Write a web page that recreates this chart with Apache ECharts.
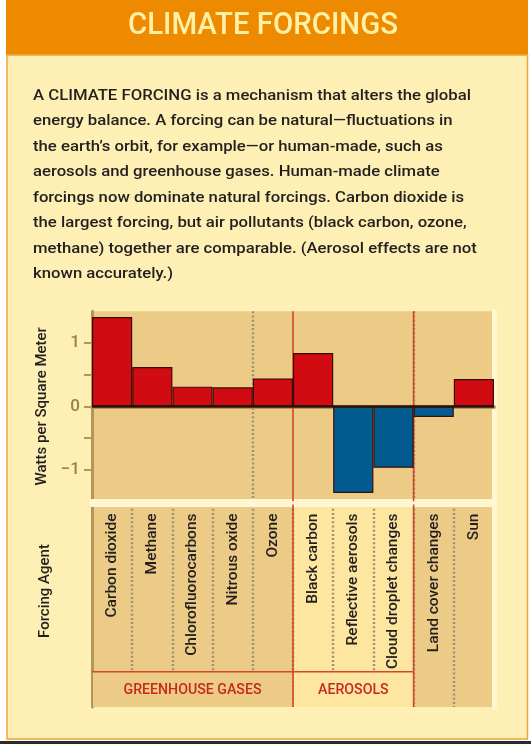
<!DOCTYPE html>
<html><head><meta charset="utf-8">
<script src="https://cdn.jsdelivr.net/npm/echarts@6/dist/echarts.min.js"></script>
<style>html,body{margin:0;padding:0;background:#fff;}#c{width:531px;height:744px;}</style>
</head><body><div id="c"></div>
<script>
// ---- data ----
const titleText = 'CLIMATE FORCINGS';
const paragraphLines = [
  'A CLIMATE FORCING is a mechanism that alters the global',
  'energy balance. A forcing can be natural\u2014fluctuations in',
  'the earth\u2019s orbit, for example\u2014or human-made, such as',
  'aerosols and greenhouse gases. Human-made climate',
  'forcings now dominate natural forcings. Carbon dioxide is',
  'the largest forcing, but air pollutants (black carbon, ozone,',
  'methane) together are comparable. (Aerosol effects are not',
  'known accurately.)'
];
const categories = ['Carbon dioxide','Methane','Chlorofluorocarbons','Nitrous oxide','Ozone',
  'Black carbon','Reflective aerosols','Cloud droplet changes','Land cover changes','Sun'];
const forcingValues = [1.41, 0.62, 0.31, 0.30, 0.44, 0.84, -1.37, -0.97, -0.17, 0.43];
const yTickValues = [-1, -0.5, 0, 0.5, 1];
const yTickLabels = {'1':'1', '0':'0', '-1':'\u22121'};
const groupNames = ['GREENHOUSE GASES', 'AEROSOLS'];
const groupStart = [0, 5];
const groupEnd = [4, 7];
const yAxisTitle = 'Watts per Square Meter';
const xAxisTitle = 'Forcing Agent';

// ---- styles ----
const FONT = 'Roboto';
const TAN = '#ECCB86', LIGHT = '#FDE6A0', CREAM = '#FEF0B4', HI = '#FFF7D2';
const EDGE = '#B4955A', REDLINE = '#D4452A', DOT = '#9E9078';
const RED = '#D10B12', BLUE = '#035B8F', DARK = '#231F20';
const groupShade = {'GREENHOUSE GASES': TAN, 'AEROSOLS': LIGHT};
const columnShades = categories.map((c, i) => {
  for (let g = 0; g < groupNames.length; g++) if (i >= groupStart[g] && i <= groupEnd[g]) return groupShade[groupNames[g]];
  return TAN;
});
const BAND = 0.826; // fraction of lower box where group band starts

const mctx = document.createElement('canvas').getContext('2d');
function measure(t, font) { mctx.font = font; return mctx.measureText(t).width; }
const titleFont = '500 31px ' + FONT;
const titleScale = 270 / measure(titleText, titleFont);
const paraFont = '500 15.5px ' + FONT;
const paraScale = 438 / measure(paragraphLines[0], paraFont);
const groupFont = '500 15.5px ' + FONT;
const groupScale = 138 / measure(groupNames[0], groupFont);

const graphics = [
  {type:'rect', shape:{x:6, y:0, width:522, height:55}, style:{fill:'#EE8A00'}, z:-10},
  {type:'rect', shape:{x:7, y:55, width:520.5, height:684}, style:{fill:CREAM, stroke:'#F0A43C', lineWidth:1.5}, z:-10},
  {type:'rect', shape:{x:0, y:741, width:531, height:3}, style:{fill:'#2A2A2A'}, z:-10},
  {type:'text', x:263, y:26, scaleX:titleScale, style:{text:titleText, font:titleFont, fill:'#FFF0A6', align:'center', verticalAlign:'middle'}, z:10},
  {type:'text', x:45, y:591, rotation:Math.PI/2, style:{text:xAxisTitle, font:'500 15px ' + FONT, fill:DARK, align:'center', verticalAlign:'middle'}, z:10}
];
paragraphLines.forEach((t, i) => {
  graphics.push({type:'text', x:33, y:96 + 25.5 * i, scaleX:paraScale,
    style:{text:t, font:paraFont, fill:DARK, align:'left', verticalAlign:'middle'}, z:10});
});

const splitLineStyle = {show:true, showMinLine:false, showMaxLine:false, lineStyle:{color:DOT, width:2.4, type:[2,2.2]}};

const chart = echarts.init(document.getElementById('c'), null, {renderer:'canvas'});
chart.setOption({
  animation:false,
  backgroundColor:'#ffffff',
  graphic:graphics,
  grid:[
    {left:92, width:402, top:311.3, height:190},
    {left:92, width:402, top:504.5, height:202.5}
  ],
  xAxis:[
    {type:'category', gridIndex:0, data:categories, position:'bottom',
      axisLine:{show:true, onZero:false, lineStyle:{color:HI, width:6}},
      axisTick:{show:false}, axisLabel:{show:false},
      splitArea:{show:true, areaStyle:{color:columnShades}}, splitLine:splitLineStyle},
    {type:'category', gridIndex:0, data:categories, position:'top',
      axisLine:{show:true, lineStyle:{color:EDGE, width:4}}, axisTick:{show:false}, axisLabel:{show:false},
      splitLine:{show:false}, splitArea:{show:false}},
    {type:'category', gridIndex:1, data:categories, position:'top',
      axisLine:{show:true, lineStyle:{color:EDGE, width:4}}, axisTick:{show:false},
      axisLabel:{show:true, inside:true, rotate:90, margin:9, interval:0, color:DARK, fontSize:15.5, fontFamily:FONT, fontWeight:500},
      splitArea:{show:true, areaStyle:{color:columnShades}}, splitLine:splitLineStyle},
    {type:'category', gridIndex:1, data:categories, position:'bottom',
      axisLine:{show:true, lineStyle:{color:HI, width:5}}, axisTick:{show:false}, axisLabel:{show:false},
      splitLine:{show:false}, splitArea:{show:false}}
  ],
  yAxis:[
    {type:'value', gridIndex:0, min:-1.5, max:1.5, interval:0.5,
      axisLine:{show:true, lineStyle:{color:EDGE, width:3}},
      axisTick:{show:true, length:8, customValues:yTickValues, lineStyle:{color:EDGE, width:2}},
      axisLabel:{margin:12, color:'#9A804C', fontSize:17, fontFamily:FONT, fontWeight:500,
        formatter:v => yTickLabels[String(Math.round(v * 100) / 100)] || ''},
      splitLine:{show:true, showMinLine:false, showMaxLine:false, lineStyle:{color:'rgba(170,120,30,0.5)', width:1}},
      name:yAxisTitle, nameLocation:'middle', nameRotate:90, nameGap:38,
      nameTextStyle:{color:DARK, fontSize:15, fontFamily:FONT, fontWeight:500}},
    {type:'value', gridIndex:0, min:-1.5, max:1.5, interval:0.5, position:'right',
      axisLine:{show:true, lineStyle:{color:HI, width:5}}, axisTick:{show:false}, axisLabel:{show:false}, splitLine:{show:false}},
    {type:'value', gridIndex:1, min:0, max:1, inverse:true,
      axisLine:{show:true, lineStyle:{color:EDGE, width:3}}, axisTick:{show:false}, axisLabel:{show:false}, splitLine:{show:false}},
    {type:'value', gridIndex:1, min:0, max:1, inverse:true, position:'right',
      axisLine:{show:true, lineStyle:{color:HI, width:5}}, axisTick:{show:false}, axisLabel:{show:false}, splitLine:{show:false}}
  ],
  series:[
    {type:'bar', xAxisIndex:0, yAxisIndex:0, data:forcingValues, barWidth:'100%', z:3,
      itemStyle:{color:p => p.value >= 0 ? RED : BLUE, borderColor:'#3A0E08', borderWidth:1.2},
      markLine:{silent:true, symbol:'none', label:{show:false}, data:[{yAxis:0}],
        lineStyle:{color:'#2B1208', width:2.5, type:'solid'}}},
    {type:'custom', xAxisIndex:0, yAxisIndex:0, z:2, silent:true,
      data:groupNames.map((n, i) => [groupStart[i], groupEnd[i]]),
      renderItem:(params, api) => {
        const e = api.value(1);
        if (e >= categories.length - 1) return null;
        const bw = api.size([1, 0])[0];
        const x1 = api.coord([e, 0])[0] + bw / 2;
        const top = api.coord([e, 1.5])[1], bot = api.coord([e, -1.5])[1];
        return {type:'line', shape:{x1:x1, y1:top, x2:x1, y2:bot}, style:{stroke:REDLINE, lineWidth:1.6}};
      }},
    {type:'custom', xAxisIndex:2, yAxisIndex:2, z:2, silent:true,
      data:groupNames.map((n, i) => [groupStart[i], groupEnd[i]]),
      renderItem:(params, api) => {
        const s = api.value(0), e = api.value(1);
        const name = groupNames[params.dataIndex];
        const bw = api.size([1, 0])[0];
        const x0 = api.coord([s, 0])[0] - bw / 2;
        const x1 = api.coord([e, 0])[0] + bw / 2;
        const top = api.coord([s, 0])[1], band = api.coord([s, BAND])[1], bot = api.coord([s, 1])[1];
        const children = [
          {type:'rect', shape:{x:x0 + 1, y:band, width:x1 - x0 - 1, height:bot - band}, style:{fill:groupShade[name]}},
          {type:'line', shape:{x1:x0, y1:band, x2:x1, y2:band}, style:{stroke:REDLINE, lineWidth:1.6}},
          {type:'text', x:(x0 + x1) / 2, y:(band + bot) / 2 + 1, scaleX:groupScale,
            style:{text:name, font:groupFont, fill:'#C62A1E', align:'center', verticalAlign:'middle'}}
        ];
        if (e < categories.length - 1) children.push({type:'line', shape:{x1:x1, y1:top, x2:x1, y2:bot}, style:{stroke:REDLINE, lineWidth:1.6}});
        return {type:'group', children:children};
      }}
  ]
});
</script></body></html>
